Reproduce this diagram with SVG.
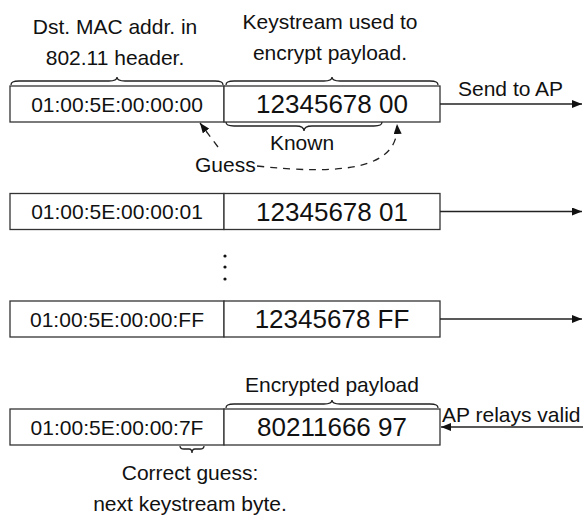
<svg xmlns="http://www.w3.org/2000/svg" width="583" height="517" viewBox="0 0 583 517">
  <style>
    text { font-family: "Liberation Sans", Arial, sans-serif; fill: #111; }
    .lbl { font-size: 21px; }
    .mac { font-size: 21px; text-anchor: middle; }
    .ks { font-size: 26px; text-anchor: middle; }
    .mid { text-anchor: middle; }
    .cell { fill: #fff; stroke: #333; stroke-width: 1.3; }
    .brace { fill: none; stroke: #222; stroke-width: 1.3; }
    .wire { fill: none; stroke: #222; stroke-width: 1.3; }
    .dash { fill: none; stroke: #222; stroke-width: 1.3; stroke-dasharray: 7 6; }
  </style>
  <defs>
    <marker id="head" markerUnits="userSpaceOnUse" markerWidth="11" markerHeight="8" refX="10" refY="4" orient="auto">
      <path d="M0,0 L10,4 L0,8 z" fill="#111"/>
    </marker>
  </defs>

  <!-- header labels -->
  <g id="label-mac">
    <text class="lbl mid" x="115" y="34">Dst. MAC addr. in</text>
    <text class="lbl mid" x="115" y="65">802.11 header.</text>
  </g>
  <g id="label-keystream">
    <text class="lbl mid" x="330" y="29">Keystream used to</text>
    <text class="lbl mid" x="330" y="60">encrypt payload.</text>
  </g>

  <!-- frame 1 -->
  <g id="frame-00">
    <rect class="cell" x="10" y="86" width="214" height="36"/>
    <rect class="cell" x="224" y="86" width="216" height="36"/>
    <text class="mac" x="117" y="111.5">01:00:5E:00:00:00</text>
    <text class="ks" x="332" y="113.3">12345678 00</text>
  </g>

  <!-- frame 2 -->
  <g id="frame-01">
    <rect class="cell" x="10" y="193.5" width="214" height="36"/>
    <rect class="cell" x="224" y="193.5" width="216" height="36"/>
    <text class="mac" x="117" y="219">01:00:5E:00:00:01</text>
    <text class="ks" x="332" y="220.8">12345678 01</text>
  </g>

  <!-- ellipsis -->
  <g id="ellipsis" fill="#111">
    <circle cx="225" cy="256" r="1.6"/>
    <circle cx="225" cy="267" r="1.6"/>
    <circle cx="225" cy="279" r="1.6"/>
  </g>

  <!-- frame 3 -->
  <g id="frame-ff">
    <rect class="cell" x="10" y="301" width="214" height="36"/>
    <rect class="cell" x="224" y="301" width="216" height="36"/>
    <text class="mac" x="117" y="326.5">01:00:5E:00:00:FF</text>
    <text class="ks" x="332" y="328.3">12345678 FF</text>
  </g>

  <!-- relayed frame -->
  <g id="frame-7f">
    <rect class="cell" x="10" y="409" width="214" height="36"/>
    <rect class="cell" x="224" y="409" width="216" height="36"/>
    <text class="mac" x="117" y="434.5">01:00:5E:00:00:7F</text>
    <text class="ks" x="332" y="436.3">80211666 97</text>
  </g>

  <!-- braces and their labels -->
  <g id="braces">
    <path class="brace" d="M11,85 C11,82 13,81 19,81 L109,81 C114,81 117,80 117,77 C117,80 120,81 125,81 L215,81 C221,81 223,82 223,85"/>
    <path class="brace" d="M226,85 C226,82 228,81 234,81 L324,81 C329,81 332,80 332,77 C332,80 335,81 340,81 L430,81 C436,81 438,82 438,85"/>
    <path class="brace" d="M226,122 C226,125 228,126 234,126 L296,126 C301,126 304,127 304,131 C304,127 307,126 312,126 L374,126 C380,126 382,125 382,122"/>
    <path class="brace" d="M226,408 C226,405 228,404 234,404 L324,404 C329,404 332,403 332,400 C332,403 335,404 340,404 L430,404 C436,404 438,405 438,408"/>
    <path class="brace" d="M180,446 C180,448 181,449 184,449 L189,449 C191,449 192,450 192,453 C192,450 193,449 195,449 L200,449 C203,449 204,448 204,446"/>
  </g>
  <g id="label-known"><text class="lbl mid" x="302" y="150">Known</text></g>
  <g id="label-guess"><text class="lbl" x="195" y="172">Guess</text></g>
  <g id="label-encrypted"><text class="lbl mid" x="332" y="391.5">Encrypted payload</text></g>
  <g id="label-correct">
    <text class="lbl mid" x="190" y="480">Correct guess:</text>
    <text class="lbl mid" x="190" y="511">next keystream byte.</text>
  </g>
  <g id="label-send"><text class="lbl" x="458" y="96">Send to AP</text></g>
  <g id="label-relay"><text class="lbl" x="442" y="421.5">AP relays valid</text></g>

  <!-- connectors -->
  <g id="connectors">
    <line class="wire" x1="440" y1="104" x2="582" y2="104" marker-end="url(#head)"/>
    <line class="wire" x1="440" y1="211.5" x2="582" y2="211.5" marker-end="url(#head)"/>
    <line class="wire" x1="440" y1="319" x2="582" y2="319" marker-end="url(#head)"/>
    <line class="wire" x1="583" y1="427" x2="441" y2="427" marker-end="url(#head)"/>
    <line class="dash" x1="218" y1="147" x2="200" y2="123" marker-end="url(#head)"/>
    <path class="dash" d="M257,166 C340,175 400,170 397,124" marker-end="url(#head)"/>
  </g>
</svg>
